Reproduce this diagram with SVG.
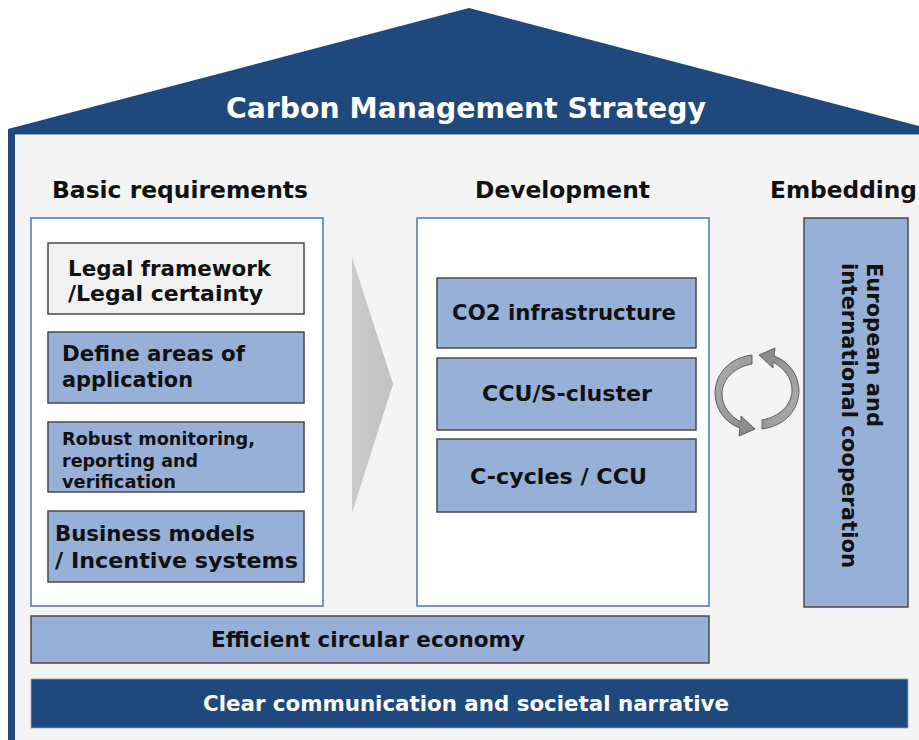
<svg xmlns="http://www.w3.org/2000/svg" width="919" height="740" viewBox="0 0 919 740">
  <defs>
    <style>
      .t { font-family: "DejaVu Sans", Verdana, sans-serif; font-weight: bold; fill: #111; }
      .hdr { font-size: 23px; }
      .lbl { font-size: 21px; }
      .sm { font-size: 17.5px; }
      .wt { fill: #ffffff; }
      .panel { fill: #ffffff; stroke: #4f76ad; stroke-width: 1.5; }
      .box { fill: #97b0d8; stroke: #4a4a4a; stroke-width: 1.5; }
      .boxg { fill: #f2f2f2; stroke: #4a4a4a; stroke-width: 1.5; }
      .dark { fill: #1f497d; }
      .cyc { fill: url(#cycGrad); stroke: #555555; stroke-width: 0.9; }
    </style>
    <linearGradient id="chevGrad" x1="0" y1="0" x2="1" y2="0">
      <stop offset="0" stop-color="#cbcbcb"/>
      <stop offset="1" stop-color="#c2c2c2"/>
    </linearGradient>
    <linearGradient id="cycGrad" x1="0" y1="0" x2="1" y2="1">
      <stop offset="0" stop-color="#b0b0b0"/>
      <stop offset="1" stop-color="#858585"/>
    </linearGradient>
  </defs>

  <!-- house body and roof -->
  <rect x="0" y="0" width="919" height="740" fill="#ffffff"/>
  <rect x="15" y="134" width="904" height="606" fill="#f4f4f4"/>
  <rect x="8" y="129" width="7" height="611" class="dark"/>
  <polygon points="8,129 469,8 919,126 919,134 8,134" class="dark"/>
  <line x1="15" y1="134.5" x2="919" y2="134.5" stroke="#8fa6c6" stroke-width="1"/>

  <g id="title">
    <text class="t wt" x="226" y="118" font-size="28" textLength="480" lengthAdjust="spacingAndGlyphs">Carbon Management Strategy</text>
  </g>

  <!-- column headers -->
  <g id="headers">
    <text class="t hdr" x="52" y="198" textLength="256" lengthAdjust="spacingAndGlyphs">Basic requirements</text>
    <text class="t hdr" x="475" y="198" textLength="175" lengthAdjust="spacingAndGlyphs">Development</text>
    <text class="t hdr" x="770" y="198" textLength="147" lengthAdjust="spacingAndGlyphs">Embedding</text>
  </g>

  <!-- basic requirements column -->
  <g id="basic-panel">
    <rect class="panel" x="31" y="218" width="292" height="388"/>
  </g>
  <g id="legal-framework">
    <rect class="boxg" x="48" y="243" width="256" height="71"/>
    <text class="t lbl" x="68" y="276" textLength="203" lengthAdjust="spacingAndGlyphs">Legal framework</text>
    <text class="t lbl" x="68" y="301" textLength="195" lengthAdjust="spacingAndGlyphs">/Legal certainty</text>
  </g>
  <g id="areas-of-application">
    <rect class="box" x="48" y="332" width="256" height="71"/>
    <text class="t lbl" x="62" y="361" textLength="183" lengthAdjust="spacingAndGlyphs">Define areas of</text>
    <text class="t lbl" x="62" y="387" textLength="131" lengthAdjust="spacingAndGlyphs">application</text>
  </g>
  <g id="monitoring">
    <rect class="box" x="48" y="422" width="256" height="70"/>
    <text class="t sm" x="62" y="445" textLength="193" lengthAdjust="spacingAndGlyphs">Robust monitoring,</text>
    <text class="t sm" x="62" y="467" textLength="136" lengthAdjust="spacingAndGlyphs">reporting and</text>
    <text class="t sm" x="62" y="488" textLength="114" lengthAdjust="spacingAndGlyphs">verification</text>
  </g>
  <g id="business-models">
    <rect class="box" x="48" y="511" width="256" height="71"/>
    <text class="t lbl" x="55" y="541" textLength="200" lengthAdjust="spacingAndGlyphs">Business models</text>
    <text class="t lbl" x="55" y="568" textLength="243" lengthAdjust="spacingAndGlyphs">/ Incentive systems</text>
  </g>

  <!-- flow chevron and the exchange cycle -->
  <g id="connectors">
    <polygon id="chevron" points="352,257 393,384 352,513" fill="url(#chevGrad)"/>
    <g id="cycle-arrows">
      <path class="cyc" d="M 752 355 C 729 358 715 374 715 394 C 716 411 726 423 740 428 L 739 436 L 755 429 L 741 416 L 741 422 C 730 416 722 406 722 394 C 722 379 735 367 752 364 Z"/>
      <path class="cyc" transform="rotate(180 757 392)" d="M 752 355 C 729 358 715 374 715 394 C 716 411 726 423 740 428 L 739 436 L 755 429 L 741 416 L 741 422 C 730 416 722 406 722 394 C 722 379 735 367 752 364 Z"/>
    </g>
  </g>

  <!-- development column -->
  <g id="development-panel">
    <rect class="panel" x="417" y="218" width="292" height="388"/>
  </g>
  <g id="co2-infrastructure">
    <rect class="box" x="437" y="278" width="259" height="70" stroke="#9a9a9a"/>
    <text class="t lbl" x="452" y="320" textLength="224" lengthAdjust="spacingAndGlyphs">CO2 infrastructure</text>
  </g>
  <g id="ccus-cluster">
    <rect class="box" x="437" y="358" width="259" height="72"/>
    <text class="t lbl" x="482" y="401" textLength="170" lengthAdjust="spacingAndGlyphs">CCU/S-cluster</text>
  </g>
  <g id="c-cycles">
    <rect class="box" x="437" y="439" width="259" height="73" stroke="#5a5a5a"/>
    <text class="t lbl" x="470" y="484" textLength="177" lengthAdjust="spacingAndGlyphs">C-cycles / CCU</text>
  </g>

  <!-- embedding column -->
  <g id="cooperation">
    <rect class="box" x="804" y="218" width="104" height="389"/>
    <text class="t lbl" transform="translate(867 263) rotate(90)" x="0" y="0" textLength="164" lengthAdjust="spacingAndGlyphs">European and</text>
    <text class="t lbl" transform="translate(842 263) rotate(90)" x="0" y="0" textLength="305" lengthAdjust="spacingAndGlyphs">international cooperation</text>
  </g>

  <!-- foundation layers -->
  <g id="circular-economy">
    <rect class="box" x="31" y="616" width="678" height="47"/>
    <text class="t lbl" x="211" y="647" textLength="314" lengthAdjust="spacingAndGlyphs">Efficient circular economy</text>
  </g>
  <g id="communication">
    <rect class="dark" x="31" y="679" width="877" height="49" stroke="#8fa6c6" stroke-width="0.8"/>
    <text class="t lbl wt" x="203" y="711" textLength="526" lengthAdjust="spacingAndGlyphs">Clear communication and societal narrative</text>
  </g>
</svg>
